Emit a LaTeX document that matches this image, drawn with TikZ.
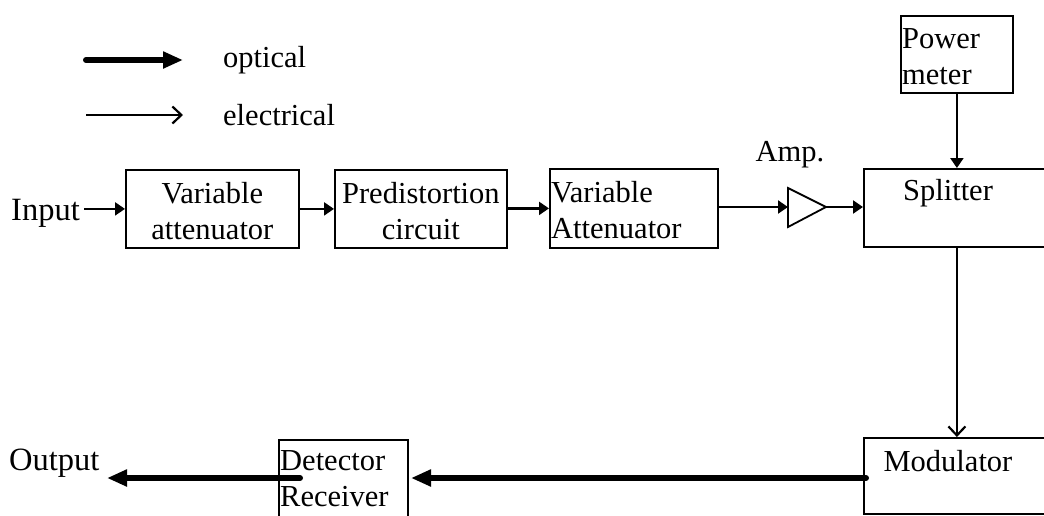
\documentclass[tikz,border=0pt]{standalone}
\usepackage{fontspec}
\setmainfont{Liberation Serif}
\usetikzlibrary{arrows.meta,calc}
\begin{document}
\begin{tikzpicture}[x=1pt,y=-1pt,
  box/.style={draw, line width=1.8pt, inner sep=0pt, anchor=north west},
  txt/.style={font=\fontsize{30.5}{36}\selectfont, inner sep=0pt},
  big/.style={font=\fontsize{32.5}{38}\selectfont, inner sep=0pt},
  elec/.style={line width=2.2pt, -{Triangle[length=10pt,width=13pt]}},
  elecopen/.style={line width=2.2pt, -{Straight Barb[length=9pt,width=17pt,line width=2.2pt]}},
  opt/.style={line width=6pt, line cap=round, -{Triangle[length=20pt,width=16pt]}}]
\useasboundingbox (0,0) rectangle (1044,515);
\clip (0,0) rectangle (1044,515);
% legend
\coordinate (lo1) at (86,60);
\coordinate (lo2) at (183,60);
\coordinate (le1) at (86,115);
\coordinate (le2) at (183,115);
\draw[opt] (lo1) -- (lo2);
\draw[elecopen] (le1) -- (le2);
\node[txt, anchor=base west] (optlab) at (223,67) {optical};
\node[txt, anchor=base west] (eleclab) at (223,125) {electrical};
% boxes
\node[box, minimum width=173pt, minimum height=78pt] (va1) at (125,169) {};
\node[txt, align=center] (va1t) at ($(va1.center)+(0,2)$) {Variable\\attenuator};
\node[box, minimum width=172pt, minimum height=78pt] (pre) at (334,169) {};
\node[txt, align=center] (pret) at ($(pre.center)+(0,2)$) {Predistortion\\circuit};
\node[box, minimum width=168pt, minimum height=79pt] (va2) at (549,168) {};
\node[txt, align=left, anchor=west] (va2t) at ($(va2.west)+(2,2)$) {Variable\\Attenuator};
\node[box, minimum width=112pt, minimum height=77pt] (pm) at (900,15) {};
\node[txt, align=left, anchor=west] (pmt) at ($(pm.west)+(2,2)$) {Power\\meter};
\node[box, minimum width=260pt, minimum height=78pt] (split) at (863,168) {};
\node[txt, anchor=base] (splitt) at (948,200) {Splitter};
\node[box, minimum width=260pt, minimum height=76pt] (mod) at (863,437) {};
\node[txt, anchor=base] (modt) at (948,471) {Modulator};
\node[box, minimum width=129pt, minimum height=100pt] (det) at (278,439) {};
\node[txt, align=left, anchor=north west] (dett) at (280,450) {Detector\\Receiver};
% texts
\node[big, anchor=base west] (inp) at (11,220) {Input};
\node[big, anchor=base west] (outp) at (9,470) {Output};
\node[txt, anchor=base] (amplab) at (790,161) {Amp.};
% amplifier
\coordinate (ampin) at (788,207);
\coordinate (ampout) at (826,207);
\draw[line width=1.8pt, line join=miter] (788,188) -- (ampout) -- (788,227) -- cycle;
% electrical connectors
\draw[elec] (inp.east |- va1.west) ++(4,0) -- (va1.west);
\draw[elec] (va1.east) -- (pre.west);
\draw[elec] (pre.east |- va2.west) -- (va2.west);
\draw[elec] (va2.east |- ampin) -- (ampin);
\draw[elec] (ampout) -- (ampout -| split.west);
\draw[elec] (pm.south) -- (pm.south |- split.north);
\draw[elecopen] (pm.south |- split.south) -- (pm.south |- mod.north);
% optical connectors
\coordinate (modout) at (866,478);
\coordinate (detin) at (411,478);
\coordinate (detout) at (300,478);
\coordinate (outend) at (107,478);
\draw[opt] (modout) -- (detin);
\draw[opt] (detout) -- (outend);
\end{tikzpicture}
\end{document}
